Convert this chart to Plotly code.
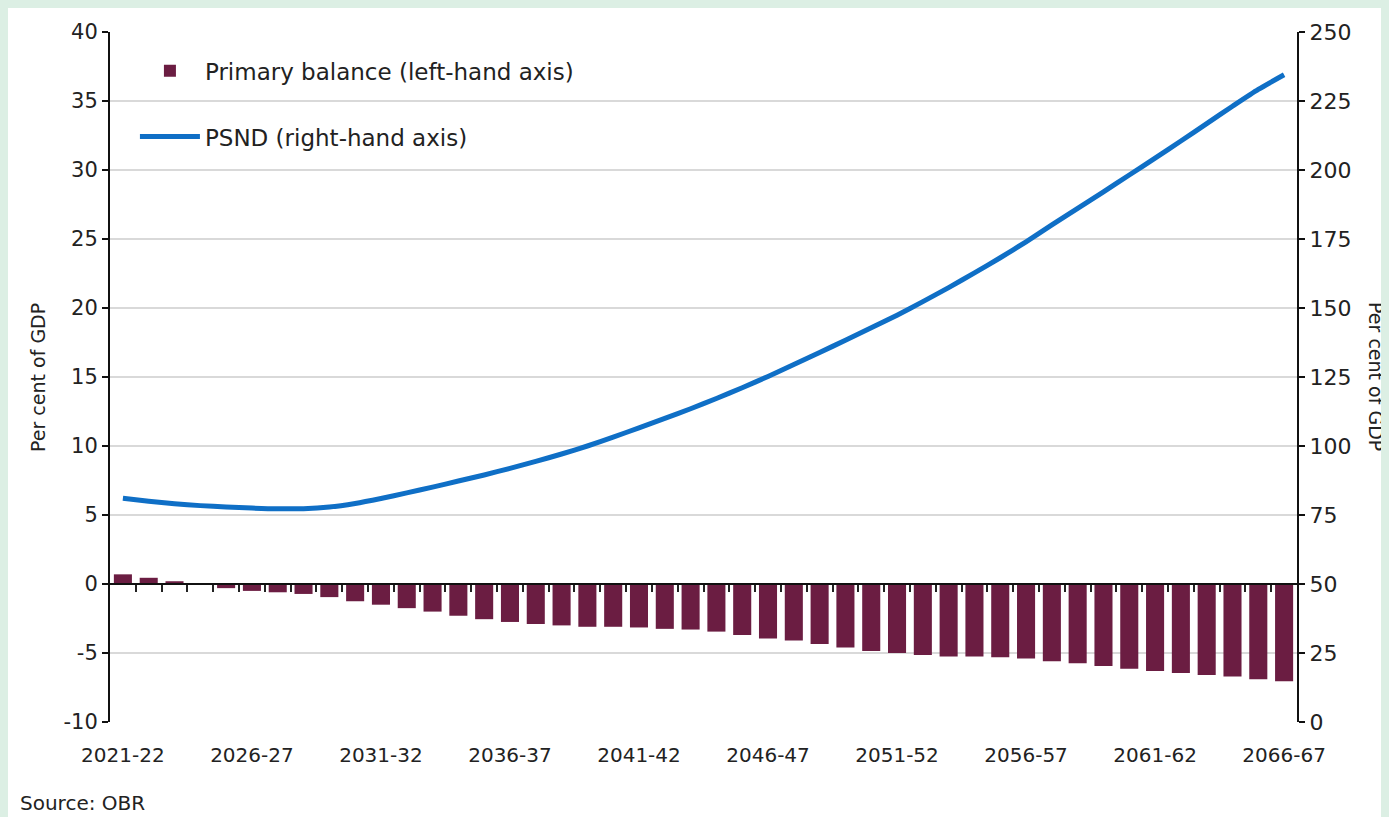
import plotly.graph_objects as go

years = [f"{y}-{str(y + 1)[-2:]}" for y in range(2021, 2067)]

primary_balance = [0.70, 0.45, 0.20, 0.00, -0.30, -0.50, -0.60, -0.72, -0.95, -1.25,
                   -1.50, -1.75, -2.00, -2.30, -2.55, -2.75, -2.90, -3.00, -3.10, -3.10,
                   -3.15, -3.25, -3.30, -3.45, -3.70, -3.95, -4.10, -4.35, -4.60, -4.85,
                   -5.00, -5.15, -5.25, -5.25, -5.30, -5.40, -5.60, -5.75, -5.95, -6.15,
                   -6.30, -6.45, -6.60, -6.70, -6.90, -7.05]

psnd = [81.1, 80.0, 79.1, 78.4, 77.9, 77.5, 77.25, 77.3, 77.9, 79.2,
        81.0, 83.0, 85.1, 87.3, 89.5, 91.9, 94.4, 97.1, 100.0, 103.2,
        106.6, 110.0, 113.5, 117.2, 121.1, 125.2, 129.5, 133.9, 138.3, 142.8,
        147.4, 152.3, 157.4, 162.7, 168.2, 174.0, 180.1, 186.1, 192.1, 198.2,
        204.3, 210.5, 216.8, 223.1, 229.2, 234.5]

x_labels_every = 5

left_ticks = list(range(-10, 41, 5))
left_ticktext = [str(v) for v in left_ticks]
right_ticks = list(range(0, 251, 25))

BAR = "#6b1d42"
LINE = "#0f6fc6"
FONT = "DejaVu Sans"
TXT = "#222222"

idx = list(range(len(years)))

fig = go.Figure()
fig.add_trace(go.Bar(
    x=idx, y=primary_balance, name="Primary balance (left-hand axis)",
    marker=dict(color=BAR, line=dict(width=0)), yaxis="y", xaxis="x",
    legendgroup="a",
))
fig.add_trace(go.Scatter(
    x=idx, y=psnd, name="PSND (right-hand axis)", mode="lines",
    line=dict(color=LINE, width=5, shape="spline", smoothing=0.6),
    yaxis="y2", xaxis="x", legendgroup="b",
))
# invisible trace to carry the boundary tick axis on the zero line
fig.add_trace(go.Scatter(x=[idx[0]], y=[0], mode="markers", marker=dict(opacity=0),
                         xaxis="x2", yaxis="y", showlegend=False, hoverinfo="skip"))

xr = [-0.5, len(years) - 0.5]

fig.update_layout(
    width=1381, height=809,
    margin=dict(l=102, r=92, t=24, b=95),
    paper_bgcolor="white",
    plot_bgcolor="white",
    bargap=0.3,
    font=dict(family=FONT, size=20, color=TXT),
    showlegend=True,
    legend=dict(x=0.021, y=0.975, xanchor="left", yanchor="top",
                bgcolor="rgba(0,0,0,0)", font=dict(size=23, color=TXT),
                itemwidth=60, tracegroupgap=33),
    xaxis=dict(
        range=xr, tickmode="array",
        tickvals=idx[::x_labels_every], ticktext=years[::x_labels_every],
        ticks="", showgrid=False, showline=False, zeroline=False,
        ticklabelstandoff=19, tickfont=dict(size=20),
    ),
    xaxis2=dict(
        range=xr, overlaying="x", anchor="free", position=0.2,
        tickmode="array", tickvals=[i + 0.5 for i in idx[:-1]],
        showticklabels=False, ticks="outside", ticklen=7, tickwidth=2,
        tickcolor="#222", showline=True, linecolor="#111", linewidth=2,
        showgrid=False, zeroline=False,
    ),
    yaxis=dict(
        range=[-10, 40], tickmode="array", tickvals=left_ticks, ticktext=left_ticktext,
        showgrid=True, gridcolor="#d9d9d9", gridwidth=1.5,
        zeroline=False, showline=True, linecolor="#111", linewidth=2,
        ticks="outside", ticklen=6, tickwidth=2, tickcolor="#111",
        tickfont=dict(size=21),
    ),
    yaxis2=dict(
        range=[0, 250], tickmode="array", tickvals=right_ticks,
        overlaying="y", side="right", showgrid=False, zeroline=False,
        showline=True, linecolor="#111", linewidth=2,
        ticks="outside", ticklen=6, tickwidth=2, tickcolor="#111",
        tickfont=dict(size=22),
    ),
    annotations=[
        dict(text="Per cent of GDP", xref="paper", yref="paper", x=-0.0607, y=0.5,
             textangle=-90, showarrow=False, font=dict(size=19, color=TXT),
             xanchor="center", yanchor="middle"),
        dict(text="Per cent of GDP", xref="paper", yref="paper", x=1.0665, y=0.5,
             textangle=90, showarrow=False, font=dict(size=19, color=TXT),
             xanchor="center", yanchor="middle"),
        dict(text="Source: OBR", xref="paper", yref="paper", x=-0.0775, y=-0.117,
             showarrow=False, xanchor="left", yanchor="middle",
             font=dict(size=20, color=TXT)),
    ],
)

fig.write_html("out.html", post_script="document.body.style.background='#dcefe4';")
